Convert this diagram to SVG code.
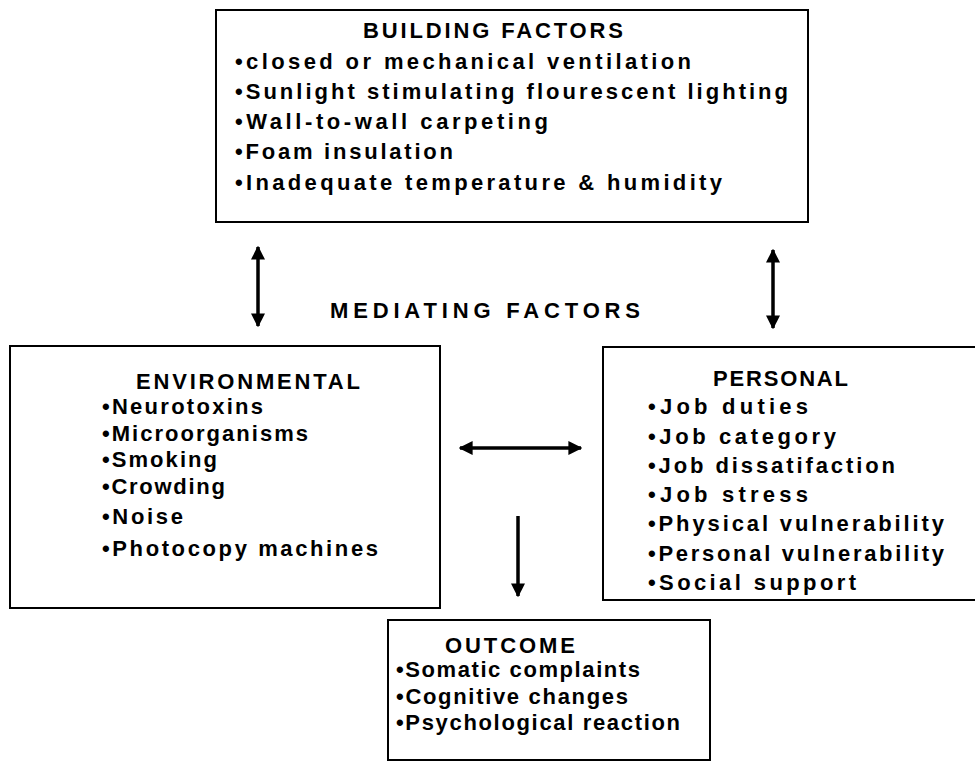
<svg xmlns="http://www.w3.org/2000/svg" width="975" height="764" viewBox="0 0 975 764">
<style>
.box{fill:#fff;stroke:#000;stroke-width:2}
text{font-family:"Liberation Sans",Arial,sans-serif;font-size:22px;font-weight:bold;fill:#000}
.con{stroke:#000;stroke-width:3.5;fill:none}
</style>
<defs>
<marker id="ah" viewBox="0 0 10 10" refX="9" refY="5" markerWidth="4" markerHeight="4.5" orient="auto-start-reverse" markerUnits="strokeWidth">
<path d="M0,0 L10,5 L0,10 z" fill="#000"/>
</marker>
</defs>
<rect width="975" height="764" fill="#fff"/>
<g id="building">
<rect class="box" x="216" y="10" width="592" height="212"/>
<text x="363" y="38" textLength="260" lengthAdjust="spacing">BUILDING FACTORS</text>
<text x="235" y="69" textLength="456" lengthAdjust="spacing">•closed or mechanical ventilation</text>
<text x="235" y="99" textLength="553" lengthAdjust="spacing">•Sunlight stimulating flourescent lighting</text>
<text x="235" y="129" textLength="313" lengthAdjust="spacing">•Wall-to-wall carpeting</text>
<text x="235" y="159" textLength="218" lengthAdjust="spacing">•Foam insulation</text>
<text x="235" y="190" textLength="487" lengthAdjust="spacing">•Inadequate temperature &amp; humidity</text>
</g>
<g id="mediating">
<text x="330" y="318" textLength="310" lengthAdjust="spacing">MEDIATING FACTORS</text>
</g>
<g id="environmental">
<rect class="box" x="10" y="346" width="430" height="262"/>
<text x="136" y="389" textLength="224" lengthAdjust="spacing">ENVIRONMENTAL</text>
<text x="102" y="414" textLength="161" lengthAdjust="spacing">•Neurotoxins</text>
<text x="102" y="441" textLength="206" lengthAdjust="spacing">•Microorganisms</text>
<text x="102" y="467" textLength="115" lengthAdjust="spacing">•Smoking</text>
<text x="102" y="494" textLength="123" lengthAdjust="spacing">•Crowding</text>
<text x="102" y="524" textLength="81" lengthAdjust="spacing">•Noise</text>
<text x="102" y="556" textLength="276" lengthAdjust="spacing">•Photocopy machines</text>
</g>
<g id="personal">
<rect class="box" x="603" y="347" width="380" height="253"/>
<text x="713" y="386" textLength="135" lengthAdjust="spacing">PERSONAL</text>
<text x="648" y="414" textLength="160" lengthAdjust="spacing">•Job duties</text>
<text x="648" y="444" textLength="188" lengthAdjust="spacing">•Job category</text>
<text x="648" y="473" textLength="247" lengthAdjust="spacing">•Job dissatifaction</text>
<text x="648" y="502" textLength="160" lengthAdjust="spacing">•Job stress</text>
<text x="648" y="531" textLength="296" lengthAdjust="spacing">•Physical vulnerability</text>
<text x="648" y="561" textLength="296" lengthAdjust="spacing">•Personal vulnerability</text>
<text x="648" y="590" textLength="208" lengthAdjust="spacing">•Social support</text>
</g>
<g id="outcome">
<rect class="box" x="388" y="620" width="322" height="140"/>
<text x="445" y="653" textLength="130" lengthAdjust="spacing">OUTCOME</text>
<text x="396" y="677" textLength="244" lengthAdjust="spacing">•Somatic complaints</text>
<text x="396" y="704" textLength="232" lengthAdjust="spacing">•Cognitive changes</text>
<text x="396" y="730" textLength="284" lengthAdjust="spacing">•Psychological reaction</text>
</g>
<g id="connectors">
<line class="con" x1="258" y1="247" x2="258" y2="326" marker-start="url(#ah)" marker-end="url(#ah)"/>
<line class="con" x1="773" y1="250" x2="773" y2="328" marker-start="url(#ah)" marker-end="url(#ah)"/>
<line class="con" x1="460" y1="448" x2="581" y2="448" marker-start="url(#ah)" marker-end="url(#ah)"/>
<line class="con" x1="518" y1="516" x2="518" y2="596" marker-end="url(#ah)"/>
</g>
</svg>
